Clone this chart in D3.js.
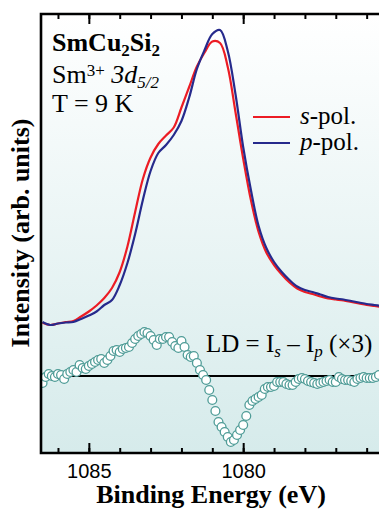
<!DOCTYPE html>
<html lang="en">
  <head>
    <meta charset="utf-8">
    <title>SmCu2Si2 Sm3+ 3d5/2 linear dichroism</title>
    <script type="text/javascript" src="https://cdnjs.cloudflare.com/ajax/libs/d3/7.8.5/d3.min.js"></script>
    <style>
      body { margin: 0; background: #ffffff; }
      .serif { font-family: "Liberation Serif", "Times New Roman", serif; }
      .axis text { font-family: "Liberation Sans", Arial, sans-serif; font-size: 20px; fill: #000; }
      .axis path { display: none; }
      .axis line { stroke: #000; stroke-width: 2; }
    </style>
  </head>
  <body>
    <div id="chartDiv"></div>
    <script>
      // binding energy grid of the two spectra (eV)
      var energies = [1086.5, 1086.25, 1086, 1085.75, 1085.5, 1085.25, 1085, 1084.75, 1084.5, 1084.25,
                      1084, 1083.75, 1083.5, 1083.25, 1083, 1082.75, 1082.5, 1082.25, 1082, 1081.75,
                      1081.5, 1081.25, 1081, 1080.75, 1080.5, 1080.25, 1080, 1079.75, 1079.5, 1079.25,
                      1079, 1078.75, 1078.5, 1078.25, 1078, 1077.75, 1077.5, 1077.25, 1077, 1076.75,
                      1076.5, 1076.25, 1076, 1075.75, 1075.5]

      // intensity (arb. units)
      var sPol = [53.3, 51, 52.5, 54, 55, 59.5, 64.5, 70.5, 78, 88,
                  104, 129.5, 164, 197, 218.5, 232, 240.5, 248.5, 268.5, 289,
                  309.5, 323.5, 334.5, 333, 309, 264, 217.5, 176, 144, 123.5,
                  111, 101.5, 93.5, 87.5, 84, 82, 79.5, 77.5, 76.5, 75.5,
                  74, 72.5, 71, 70, 69]

      var pPol = [54, 51, 52.5, 53.5, 54, 57, 60.5, 64.5, 71, 76,
                  91, 113, 142, 176, 205, 223, 231, 241, 255, 278.5,
                  307, 326, 342, 346, 325, 282, 229, 186, 150, 128,
                  114, 104, 96, 89.5, 86, 84, 81.5, 79, 77.5, 76.5,
                  75, 73.5, 72, 71, 70]

      // LD = Is - Ip (x3)
      var ldEnergies = [1086.5, 1086.4, 1086.3, 1086.2, 1086.1, 1086.0, 1085.9, 1085.8, 1085.7, 1085.6,
                        1085.5, 1085.4, 1085.3, 1085.2, 1085.1, 1085.0, 1084.9, 1084.8, 1084.7, 1084.6,
                        1084.5, 1084.4, 1084.3, 1084.2, 1084.1, 1084.0, 1083.9, 1083.8, 1083.7, 1083.6,
                        1083.5, 1083.4, 1083.3, 1083.2, 1083.1, 1083.0, 1082.9, 1082.8, 1082.7, 1082.6,
                        1082.5, 1082.4, 1082.3, 1082.2, 1082.1, 1082.0, 1081.9, 1081.8, 1081.7, 1081.6,
                        1081.5, 1081.4, 1081.3, 1081.2, 1081.1, 1081.0, 1080.9, 1080.8, 1080.7, 1080.6,
                        1080.5, 1080.4, 1080.3, 1080.2, 1080.1, 1080.0, 1079.9, 1079.8, 1079.7, 1079.6,
                        1079.5, 1079.4, 1079.3, 1079.2, 1079.1, 1079.0, 1078.9, 1078.8, 1078.7, 1078.6,
                        1078.5, 1078.4, 1078.3, 1078.2, 1078.1, 1078.0, 1077.9, 1077.8, 1077.7, 1077.6,
                        1077.5, 1077.4, 1077.3, 1077.2, 1077.1, 1077.0, 1076.9, 1076.8, 1076.7, 1076.6,
                        1076.5, 1076.4, 1076.3, 1076.2, 1076.1, 1076.0, 1075.9, 1075.8, 1075.7, 1075.6]

      var ldValues = [-7, -1, 2, 0, -1, 2, 1, -3, 2, 4,
                      6, 4, 11, 8, 7, 10, 12, 14, 16, 17,
                      13, 16, 20, 25, 26, 24, 27, 28, 29, 33,
                      37, 40, 42, 44, 43, 40, 36, 31, 37, 37,
                      39, 39, 34, 30, 28, 35, 29, 21, 19, 20,
                      13, 6, 1, -4, -14, -24, -35, -46, -51, -56,
                      -61, -66, -64, -59, -54, -49, -40, -29, -25, -23,
                      -21, -19, -13, -11, -11, -10, -6, -6, -6, -8,
                      -9, -9, -6, -3, -2, -3, -5, -6, -7, -8,
                      -7, -6, -5, -4, -6, -6, -1, -3, -4, -4,
                      -5, -6, -3, -2, -1, -2, -2, -2, -1, 1]

      var minorTicks = [1086, 1085, 1084, 1083, 1082, 1081, 1080, 1079, 1078, 1077, 1076]
      var majorTicks = [1085, 1080]

      var chartWd = 379
      var chartHt = 509
      var plotLeft = 41, plotTop = 14, plotBottom = 453

      var xScale = d3.scaleLinear()
                     .domain([1086.55, 1075.6])
                     .range([plotLeft, chartWd]);

      var yScale = d3.scaleLinear()
                     .domain([-77, 362])
                     .range([plotBottom, plotTop]);

      var svg = d3.select("#chartDiv")
          .append("svg")
          .attr("width", chartWd)
          .attr("height", chartHt);

      var defs = svg.append("defs");
      var grad = defs.append("linearGradient")
          .attr("id", "bg")
          .attr("x1", 0).attr("y1", 0).attr("x2", 0).attr("y2", 1);
      grad.append("stop").attr("offset", "0%").attr("stop-color", "#ffffff");
      grad.append("stop").attr("offset", "100%").attr("stop-color", "#d6ebeb");

      defs.append("clipPath")
          .attr("id", "plotClip")
        .append("rect")
          .attr("x", plotLeft).attr("y", plotTop)
          .attr("width", chartWd - plotLeft).attr("height", plotBottom - plotTop);

      svg.append("rect")
         .attr("x", plotLeft).attr("y", plotTop)
         .attr("width", chartWd - plotLeft).attr("height", plotBottom - plotTop)
         .attr("fill", "url(#bg)");

      var plot = svg.append("g").attr("clip-path", "url(#plotClip)");

      // zero line of LD
      plot.append("line")
          .attr("x1", xScale.range()[0]).attr("x2", xScale.range()[1])
          .attr("y1", yScale(0)).attr("y2", yScale(0))
          .attr("stroke", "#000")
          .attr("stroke-width", 2);

      var ldData = ldEnergies.map(function(e, i) { return {e: e, v: ldValues[i]} });

      plot.selectAll("circle.ld")
          .data(ldData)
          .enter()
          .append("circle")
          .attr("class", "ld")
          .attr("cx", function(d) { return xScale(d.e) })
          .attr("cy", function(d) { return yScale(d.v) })
          .attr("r", 4.4)
          .attr("fill", "#ffffff")
          .attr("stroke", "#4f9c97")
          .attr("stroke-width", 1.3);

      var line = d3.line()
          .x(function(d, i) { return xScale(energies[i]) })
          .y(function(d) { return yScale(d) })
          .curve(d3.curveCatmullRom);

      plot.append("path")
          .attr("d", line(sPol))
          .attr("fill", "none")
          .attr("stroke", "#ec1c24")
          .attr("stroke-width", 2.2);

      plot.append("path")
          .attr("d", line(pPol))
          .attr("fill", "none")
          .attr("stroke", "#262a8c")
          .attr("stroke-width", 2.2);

      // frame
      svg.append("path")
         .attr("d", "M" + chartWd + "," + plotTop + "H" + plotLeft + "V" + plotBottom + "H" + chartWd)
         .attr("fill", "none")
         .attr("stroke", "#000")
         .attr("stroke-width", 2.6);

      // ticks, bottom and top
      svg.append("g")
         .attr("class", "axis")
         .attr("transform", "translate(0," + plotBottom + ")")
         .call(d3.axisBottom(xScale).tickValues(minorTicks).tickSize(-5).tickFormat(""));

      svg.append("g")
         .attr("class", "axis")
         .attr("transform", "translate(0," + plotBottom + ")")
         .call(d3.axisBottom(xScale).tickValues(majorTicks).tickSize(-10).tickPadding(11).tickFormat(d3.format("d")));

      svg.append("g")
         .attr("class", "axis")
         .attr("transform", "translate(0," + plotTop + ")")
         .call(d3.axisTop(xScale).tickValues(minorTicks).tickSize(-5).tickFormat(""));

      svg.append("g")
         .attr("class", "axis")
         .attr("transform", "translate(0," + plotTop + ")")
         .call(d3.axisTop(xScale).tickValues(majorTicks).tickSize(-10).tickFormat(""));

      // axis titles
      svg.append("text")
         .attr("class", "serif")
         .attr("x", 211).attr("y", 503)
         .attr("text-anchor", "middle")
         .attr("font-size", "26px")
         .attr("font-weight", "bold")
         .text("Binding Energy (eV)");

      svg.append("text")
         .attr("class", "serif")
         .attr("transform", "translate(29,233) rotate(-90)")
         .attr("text-anchor", "middle")
         .attr("font-size", "26px")
         .attr("font-weight", "bold")
         .text("Intensity (arb. units)");

      // sample annotation
      var t1 = svg.append("text").attr("class", "serif")
         .attr("x", 52).attr("y", 51).attr("font-size", "26px").attr("font-weight", "bold");
      t1.append("tspan").text("SmCu");
      t1.append("tspan").attr("font-size", "17px").attr("dy", 5).text("2");
      t1.append("tspan").attr("dy", -5).text("Si");
      t1.append("tspan").attr("font-size", "17px").attr("dy", 5).text("2");

      var t2 = svg.append("text").attr("class", "serif")
         .attr("x", 52).attr("y", 83).attr("font-size", "26px");
      t2.append("tspan").text("Sm");
      t2.append("tspan").attr("font-size", "17px").attr("dy", -7).text("3+");
      t2.append("tspan").attr("dy", 7).attr("font-style", "italic").text(" 3d");
      t2.append("tspan").attr("font-size", "17px").attr("dy", 5).attr("font-style", "italic").text("5/2");

      svg.append("text").attr("class", "serif")
         .attr("x", 52).attr("y", 112).attr("font-size", "26px")
         .text("T = 9 K");

      // legend
      var legendItems = [{label: "s", color: "#ec1c24", y: 117}, {label: "p", color: "#262a8c", y: 143}];
      legendItems.forEach(function(d) {
        svg.append("line")
           .attr("x1", 253).attr("x2", 290)
           .attr("y1", d.y).attr("y2", d.y)
           .attr("stroke", d.color)
           .attr("stroke-width", 2.2);
        var lt = svg.append("text").attr("class", "serif")
           .attr("x", 300).attr("y", d.y + 7).attr("font-size", "25px");
        lt.append("tspan").attr("font-style", "italic").text(d.label);
        lt.append("tspan").text("-pol.");
      });

      // LD label
      var ld = svg.append("text").attr("class", "serif")
         .attr("x", 206).attr("y", 352).attr("font-size", "25px");
      ld.append("tspan").text("LD = I");
      ld.append("tspan").attr("font-size", "17px").attr("dy", 5).attr("font-style", "italic").text("s");
      ld.append("tspan").attr("dy", -5).text(" \u2013 I");
      ld.append("tspan").attr("font-size", "17px").attr("dy", 5).attr("font-style", "italic").text("p");
      ld.append("tspan").attr("dy", -5).text(" (\u00d73)");
    </script>
  </body>
</html>
